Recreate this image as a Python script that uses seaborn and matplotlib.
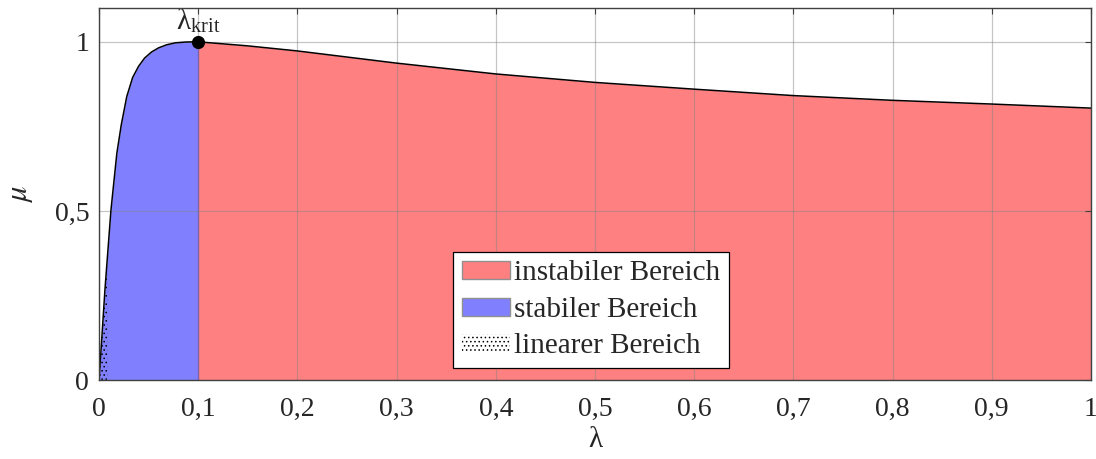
import numpy as np
import pandas as pd
import matplotlib
matplotlib.use("Agg")
import matplotlib.pyplot as plt
from matplotlib.patches import Patch
import seaborn as sns

# ---- data ----
lam = [0.0, 0.003, 0.006, 0.0121, 0.018, 0.0225, 0.028, 0.034, 0.040,
       0.046, 0.053, 0.060, 0.068, 0.077, 0.088, 0.100, 0.150, 0.200,
       0.300, 0.400, 0.500, 0.600, 0.700, 0.800, 0.900, 1.000]
mu = [0.0, 0.13, 0.266, 0.503, 0.670, 0.755, 0.838, 0.895, 0.928,
      0.952, 0.970, 0.982, 0.991, 0.997, 0.9995, 1.000, 0.988, 0.973,
      0.937, 0.905, 0.880, 0.860, 0.841, 0.827, 0.816, 0.804]
lam_krit = [0.1]
mu_krit = [1.0]
lin_lam = [0.0, 0.0084]
lin_mu = [0.0, 0.35]

xticks = [0, 0.1, 0.2, 0.3, 0.4, 0.5, 0.6, 0.7, 0.8, 0.9, 1.0]
xticklabels = ["0", "0,1", "0,2", "0,3", "0,4", "0,5", "0,6", "0,7", "0,8", "0,9", "1"]
yticks = [0, 0.5, 1.0]
yticklabels = ["0", "0,5", "1"]
legend_labels = ["instabiler Bereich", "stabiler Bereich", "linearer Bereich"]

red = "#ff8080"
blue = "#8080ff"

sns.set_style("white")
plt.rcParams["font.family"] = ["Liberation Serif", "DejaVu Serif"]
plt.rcParams["mathtext.fontset"] = "stix"
plt.rcParams["hatch.linewidth"] = 0.6

df = pd.DataFrame({"lam": lam, "mu": mu})
fig = plt.figure(figsize=(10.96, 4.59), dpi=100)
ax = fig.add_axes([0.0903, 0.172, 0.9051, 0.8106])

a = np.array(lam)
m = np.array(mu)
st = a <= 0.1
ins = a >= 0.1
ax.fill_between(a[st], m[st], 0, color=blue, linewidth=0, zorder=1)
ax.fill_between(a[ins], m[ins], 0, color=red, linewidth=0, zorder=1)
ax.plot([0.1, 0.1], [0, 1.0], color="#7a50c8", lw=0.9, zorder=2)
ax.fill_between(lin_lam, lin_mu, 0, facecolor="none", edgecolor="black",
                hatch="....", linewidth=0, zorder=2)

sns.lineplot(data=df, x="lam", y="mu", color="black", lw=1.1, ax=ax,
             sort=False, zorder=4)
sns.scatterplot(x=lam_krit, y=mu_krit, color="black", s=90, ax=ax,
                zorder=5, edgecolor="black", linewidth=0)
ax.annotate("λ$_\\mathregular{krit}$", (lam_krit[0], mu_krit[0]),
            xytext=(0, 5), textcoords="offset points", ha="center", va="bottom",
            fontsize=21)

ax.set_xlim(0, 1)
ax.set_ylim(0, 1.1)
ax.set_xticks(xticks)
ax.set_xticklabels(xticklabels)
ax.set_yticks(yticks)
ax.set_yticklabels(yticklabels)
ax.grid(True, color="#808080", alpha=0.45, lw=0.9, zorder=3)
ax.set_axisbelow(False)
ax.tick_params(direction="in", length=4, width=0.8, color="#404040",
               top=True, right=True, labelsize=20)
ax.tick_params(axis="x", pad=12)
ax.tick_params(axis="y", pad=7)
for s in ax.spines.values():
    s.set_color("#404040")
    s.set_linewidth(1.0)
    s.set_zorder(6)
ax.set_xlabel("λ", fontsize=21, labelpad=4)
ax.set_ylabel("$\\mu$", fontsize=22, labelpad=14)

handles = [Patch(facecolor=red, edgecolor="#909090", lw=1),
           Patch(facecolor=blue, edgecolor="#909090", lw=1),
           Patch(facecolor="white", edgecolor="black", hatch="....", lw=0)]
leg = ax.legend(handles, legend_labels, loc="lower left",
                bbox_to_anchor=(0.357, 0.032), fontsize=21, frameon=True,
                fancybox=False, framealpha=1, edgecolor="black",
                handlelength=1.65, handleheight=0.58, handletextpad=0.15,
                labelspacing=0.36, borderpad=0.3, borderaxespad=0)
leg.get_frame().set_linewidth(0.9)
leg.set_zorder(10)

fig.savefig("out.png", dpi=100)
